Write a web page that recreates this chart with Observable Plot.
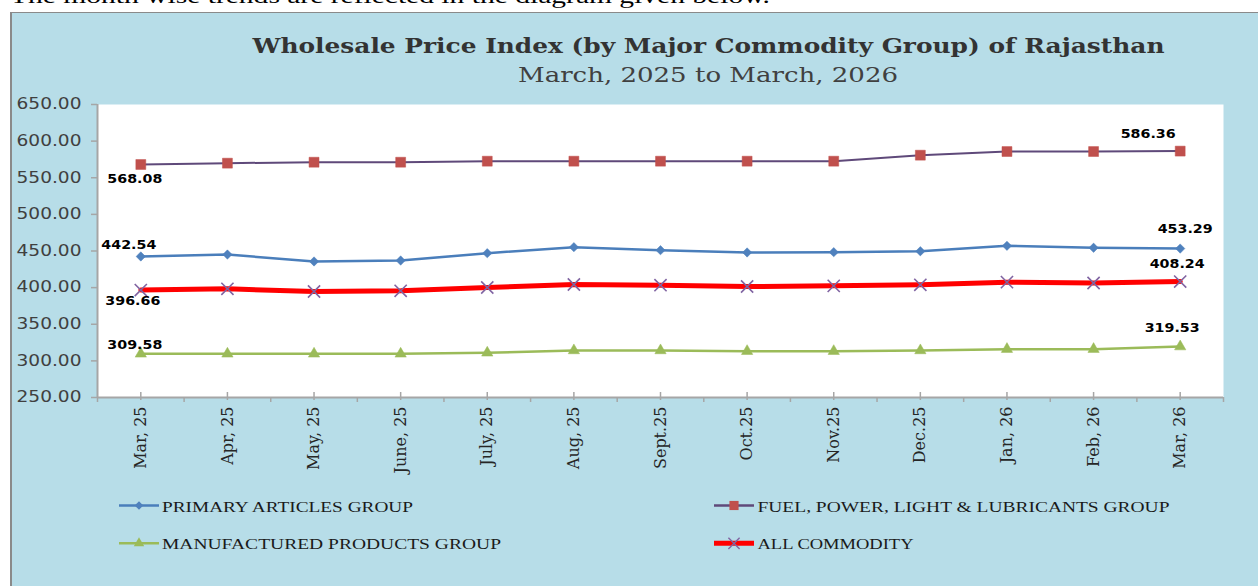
<!DOCTYPE html>
<html><head><meta charset="utf-8">
<script src="https://cdn.jsdelivr.net/npm/d3@7"></script>
<script src="https://cdn.jsdelivr.net/npm/@observablehq/plot@0.6"></script>
<style>
html,body{margin:0;padding:0;background:#fff;width:1258px;height:586px;overflow:hidden;}
#page{position:relative;width:1258px;height:586px;overflow:hidden;}
#panel{position:absolute;left:10px;top:12px;width:1260px;height:590px;background:#b7dde8;border-left:2px solid #8a8a8a;border-top:1.5px solid #8a8a8a;}
#chart{position:absolute;left:0;top:0;}
svg.overlay{position:absolute;left:0;top:0;pointer-events:none;}
</style></head>
<body>
<div id="page">
  <div id="panel"></div>
  <div id="chart"></div>
  <svg class="overlay" id="header" width="1258" height="100"></svg>
  <svg class="overlay" id="legend" width="1258" height="586"></svg>
</div>
<script>
// ---- data ----
const months = ["Mar, 25","Apr, 25","May, 25","June, 25","July, 25","Aug, 25","Sept.25","Oct.25","Nov.25","Dec.25","Jan, 26","Feb, 26","Mar, 26"];
const primary = [442.54,445.2,435.7,437.0,447.0,455.2,451.1,448.0,448.4,449.7,457.1,454.4,453.29];
const fuel = [568.08,569.9,571.2,571.2,572.6,572.6,572.6,572.6,572.6,580.8,585.8,585.8,586.36];
const manufactured = [309.58,309.6,309.6,309.6,311.0,314.2,314.2,313.2,313.2,314.2,316.0,316.0,319.53];
const allCommodity = [396.66,398.4,394.7,395.6,400.2,404.3,403.3,401.5,402.4,403.8,407.5,406.3,408.24];
const seriesNames = ["PRIMARY ARTICLES GROUP","FUEL, POWER, LIGHT & LUBRICANTS GROUP","MANUFACTURED PRODUCTS GROUP","ALL COMMODITY"];
const yTicks = [250,300,350,400,450,500,550,600,650];
const titleText = "Wholesale Price Index (by Major Commodity Group) of Rajasthan";
const subtitleText = "March, 2025 to March, 2026";
const introText = "The month wise trends are reflected in the diagram given below.";

// ---- styles ----
const styles = {
  primary: {line:"#4a7ebb", fill:"#4f81bd", w:2.5, symbol:"diamond2", r:4.2},
  fuel: {line:"#5f497a", fill:"#c0504d", w:2, symbol:"square", r:5.6},
  manufactured: {line:"#9bbb59", fill:"#9bbb59", w:2.5, symbol:"triangle", r:4.2},
  allCommodity: {line:"#ff0000", fill:"#8064a2", w:5, symbol:"times", r:5.6}
};
const seriesList = [
  {key:"primary", values:primary},
  {key:"fuel", values:fuel},
  {key:"manufactured", values:manufactured},
  {key:"allCommodity", values:allCommodity}
];
// label offsets (px) for first / last values
const labelOffsets = {
  fuel: [[-6,14.4],[-32,-17.2]],
  primary: [[-12,-11.6],[5,-19.7]],
  allCommodity: [[-8,10.8],[-3,-17.7]],
  manufactured: [[-6,-9],[-8,-18.7]]
};

const idx = months.map((_, i) => i);
const bounds = d3.range(-0.5, months.length, 1);
const rows = vals => vals.map((v, i) => ({i, v}));
const grid = "#a6a6a6";

const lineOrder = ["fuel","primary","allCommodity","manufactured"];
const marks = [
  Plot.frame({fill:"white", stroke:null}),
  Plot.ruleY([250], {stroke:grid, strokeWidth:2}),
  Plot.ruleX([-0.5], {stroke:grid, strokeWidth:2}),
  Plot.axisY({ticks:yTicks, label:null, tickSize:6, tickPadding:10, tickFormat:d3.format(".2f"),
    fontSize:15, fontFamily:"DejaVu Sans", fill:"#404040", stroke:grid, strokeWidth:1.5}),
  Plot.ruleX(idx, {x:d=>d, y1:250, y2:250, insetTop:-5, insetBottom:-3, stroke:grid, strokeWidth:1.5}),
  Plot.ruleX(bounds, {x:d=>d, y1:250, y2:250, insetTop:0, insetBottom:-5, stroke:grid, strokeWidth:1.5}),
  Plot.axisX({ticks:idx, label:null, tickSize:0, tickPadding:9, tickRotate:-90, tickFormat:i=>months[i],
    fontSize:16, fontFamily:"DejaVu Serif", fill:"#262626"})
];
for (const k of lineOrder) {
  const s = seriesList.find(d => d.key === k), st = styles[k];
  marks.push(Plot.line(rows(s.values), {x:"i", y:"v", stroke:st.line, strokeWidth:st.w}));
}
for (const k of lineOrder) {
  const s = seriesList.find(d => d.key === k), st = styles[k];
  if (st.symbol === "times")
    marks.push(Plot.dot(rows(s.values), {x:"i", y:"v", symbol:"times", r:st.r, stroke:st.fill, strokeWidth:1.6}));
  else
    marks.push(Plot.dot(rows(s.values), {x:"i", y:"v", symbol:st.symbol, r:st.r, fill:st.fill, stroke:st.fill, strokeWidth:0.5}));
}
for (const s of seriesList) {
  const offs = labelOffsets[s.key];
  [0, s.values.length - 1].forEach((i, j) => {
    marks.push(Plot.text([{i, v:s.values[i]}], {x:"i", y:"v", text:d=>d3.format(".2f")(d.v),
      dx:offs[j][0], dy:offs[j][1], fontSize:13, fontWeight:"bold", fontFamily:"DejaVu Sans", fill:"#000"}));
  });
}

const chart = Plot.plot({
  width:1258, height:480,
  marginLeft:97, marginRight:35, marginTop:104, marginBottom:83,
  style:{background:"transparent", overflow:"visible"},
  x:{type:"linear", domain:[-0.5, months.length - 0.5], axis:null},
  y:{domain:[250,650], axis:null},
  marks
});
document.getElementById("chart").appendChild(chart);
const svgSel = d3.select(chart);
svgSel.selectAll('g[aria-label="y-axis tick label"] text').attr("textLength", 65).attr("lengthAdjust","spacingAndGlyphs");
svgSel.selectAll('g[aria-label="text"] text').attr("textLength", 55).attr("lengthAdjust","spacingAndGlyphs");

// ---- header ----
const hdr = d3.select("#header");
hdr.append("text").attr("x",10).attr("y",3).attr("font-family","Liberation Serif").attr("font-size",22)
  .attr("fill","#000").attr("textLength",760).attr("lengthAdjust","spacingAndGlyphs").text(introText);
hdr.append("text").attr("x",252.5).attr("y",52.7).attr("font-family","DejaVu Serif").attr("font-weight","bold")
  .attr("font-size",20).attr("fill","#333").attr("textLength",912).attr("lengthAdjust","spacingAndGlyphs").text(titleText);
hdr.append("text").attr("x",518).attr("y",81.7).attr("font-family","DejaVu Serif")
  .attr("font-size",20.5).attr("fill","#404040").attr("textLength",380).attr("lengthAdjust","spacingAndGlyphs").text(subtitleText);

// ---- legend ----
const symMap = {diamond2:d3.symbolDiamond2, square:d3.symbolSquare, triangle:d3.symbolTriangle, times:d3.symbolTimes};
const legendPos = [
  {key:"primary", x:119, y:505.5, tx:162, tw:251},
  {key:"fuel", x:714, y:505.5, tx:757.5, tw:412},
  {key:"manufactured", x:119, y:543.3, tx:162, tw:339},
  {key:"allCommodity", x:714, y:543.3, tx:757.5, tw:156}
];
const lg = d3.select("#legend");
legendPos.forEach((p, n) => {
  const st = styles[p.key];
  const name = seriesNames[seriesList.findIndex(s => s.key === p.key)];
  lg.append("line").attr("x1",p.x).attr("x2",p.x+40).attr("y1",p.y).attr("y2",p.y)
    .attr("stroke",st.line).attr("stroke-width",st.w === 5 ? 5 : 2.5);
  const size = Math.PI * st.r * st.r * 0.85;
  const path = d3.symbol(symMap[st.symbol], size)();
  const g = lg.append("path").attr("d",path).attr("transform",`translate(${p.x+20},${p.y})`);
  if (st.symbol === "times") g.attr("fill","none").attr("stroke",st.fill).attr("stroke-width",1.4);
  else g.attr("fill",st.fill);
  lg.append("text").attr("x",p.tx).attr("y",p.y+6).attr("font-family","Liberation Serif").attr("font-size",15.5)
    .attr("fill","#1a1a1a").attr("textLength",p.tw).attr("lengthAdjust","spacingAndGlyphs").text(name);
});
</script>
</body></html>
